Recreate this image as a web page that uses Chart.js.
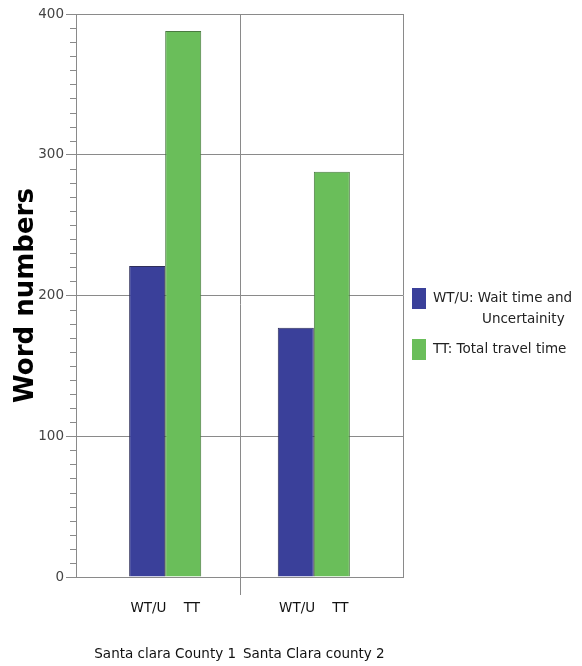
<!DOCTYPE html>
<html>
<head>
<meta charset="utf-8">
<script src="https://cdn.jsdelivr.net/npm/chart.js@4.4.0/dist/chart.umd.min.js"></script>
<style>
  html, body { margin: 0; padding: 0; background: #fff; }
  #wrap { width: 582px; height: 666px; }
</style>
</head>
<body>
<div id="wrap"><canvas id="chart" width="582" height="666"></canvas></div>
<script>
// data
const categories = ['Santa clara County 1', 'Santa Clara county 2'];
const seriesShort = ['WT/U', 'TT'];
const legendLabels = [['WT/U: Wait time and', 'Uncertainity'], ['TT: Total travel time']];
const waitTime = [221, 177];
const travelTime = [388, 288];
const yTicks = [0, 100, 200, 300, 400];

const BLUE = '#3a409a';
const GREEN = '#6abe5a';
const LINE = '#8a8a8a';

// extra bits: minor ticks, divider, right border, legend
const decorations = {
    id: 'decorations',
    afterDraw(chart) {
        const ctx = chart.ctx;
        const area = chart.chartArea;
        const x = chart.scales.x;
        const y = chart.scales.y;
        ctx.save();
        ctx.strokeStyle = LINE;
        ctx.lineWidth = 1;

        // minor ticks every 10
        for (let v = 0; v <= 400; v += 10) {
            if (v % 100 === 0) continue;
            const py = Math.round(y.getPixelForValue(v)) + 0.5;
            ctx.beginPath();
            ctx.moveTo(area.left - 6, py);
            ctx.lineTo(area.left, py);
            ctx.stroke();
        }

        // divider between the two counties
        const dx = Math.round(x.getPixelForValue(0.5)) + 0.5;
        ctx.beginPath();
        ctx.moveTo(dx, area.top);
        ctx.lineTo(dx, area.bottom + 18);
        ctx.stroke();

        // right border
        const rx = Math.round(area.right) + 0.5;
        ctx.beginPath();
        ctx.moveTo(rx, area.top);
        ctx.lineTo(rx, area.bottom);
        ctx.stroke();

        // legend
        ctx.font = '13.5px "DejaVu Sans"';
        ctx.textBaseline = 'middle';
        const boxes = [288, 339];
        chart.data.datasets.forEach((ds, i) => {
            const by = boxes[i];
            ctx.fillStyle = ds.backgroundColor;
            ctx.fillRect(412, by, 14, 21);
            ctx.fillStyle = '#222';
            legendLabels[i].forEach((t, j) => {
                ctx.fillText(t, j === 0 ? 433 : 482, by + 10 + j * 21);
            });
        });
        ctx.restore();
    }
};

new Chart(document.getElementById('chart'), {
    type: 'bar',
    data: {
        datasets: [
            {
                label: legendLabels[0].join(' '),
                data: waitTime.map((v, i) => ({ x: i, y: v })),
                backgroundColor: BLUE,
                borderColor: '#2f2f5a',
                borderWidth: 1
            },
            {
                label: legendLabels[1].join(' '),
                data: travelTime.map((v, i) => ({ x: i, y: v })),
                backgroundColor: GREEN,
                borderColor: '#4a7a40',
                borderWidth: 1
            }
        ]
    },
    options: {
        responsive: false,
        animation: false,
        categoryPercentage: 0.485,
        barPercentage: 1,
        layout: { padding: { top: 14, right: 179, left: 0, bottom: 0 } },
        plugins: {
            legend: { display: false },
            tooltip: { enabled: false }
        },
        scales: {
            x: {
                type: 'linear',
                offset: false,
                min: -0.6,
                max: 1.6,
                afterBuildTicks: (s) => { s.ticks = categories.map((c, i) => ({ value: i })); },
                afterFit: (s) => { s.height = 89; },
                grid: { display: false },
                border: { display: true, color: LINE, width: 1 },
                ticks: {
                    padding: 12,
                    color: '#111',
                    font: { family: 'DejaVu Sans', size: 13.5, lineHeight: 1.7 },
                    maxRotation: 0,
                    callback: (v) => [seriesShort.join('    '), '', categories[v]]
                }
            },
            y: {
                min: 0,
                max: 400,
                afterBuildTicks: (s) => { s.ticks = yTicks.map(v => ({ value: v })); },
                afterFit: (s) => { s.width = 76; },
                grid: { color: LINE, tickLength: 10 },
                border: { display: true, color: LINE, width: 1 },
                ticks: {
                    padding: 2,
                    color: '#444',
                    font: { family: 'DejaVu Sans', size: 13.5 }
                },
                title: {
                    display: true,
                    text: 'Word numbers',
                    color: '#000',
                    padding: { top: 11, bottom: 0 },
                    font: { family: 'DejaVu Sans', size: 26, weight: 'bold' }
                }
            }
        }
    },
    plugins: [decorations]
});
</script>
</body>
</html>
